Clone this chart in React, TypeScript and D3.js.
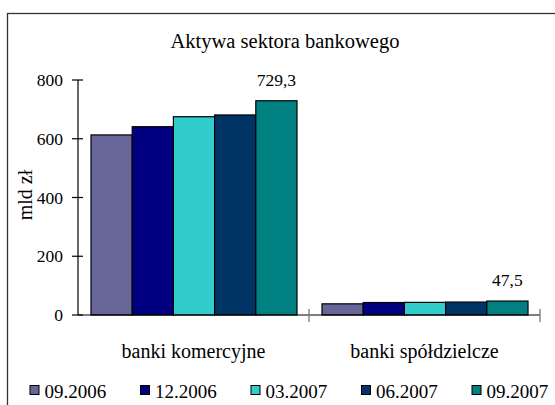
import React from 'react'
import { scaleBand, scaleLinear } from 'd3'

const categories = ['banki komercyjne', 'banki spółdzielcze']
const periods = ['09.2006', '12.2006', '03.2007', '06.2007', '09.2007']
const komercyjne = [613, 641, 675, 681, 729.3]
const spoldzielcze = [38.0, 42.5, 43.0, 44.0, 47.5]
const seriesColors = ['#666699', '#000080', '#33cccc', '#003366', '#008080']
const yTicks = [0, 200, 400, 600, 800]
const valueLabels = ['729,3', '47,5']

const width = 555
const height = 405
const font = "'Times New Roman', Times, Tinos, 'Liberation Serif', 'DejaVu Serif', 'Noto Serif', serif"

const y = scaleLinear().domain([0, 800]).range([315, 80])
const x0 = scaleBand().domain(categories).range([78, 540]).padding(0)
const x1 = scaleBand().domain(periods).range([13, 219]).padding(0)

function App() {
    const groups = [komercyjne, spoldzielcze]
    const xEnd = x0.range()[1]

    return (
        <svg width={width} height={height} style={{ position: 'absolute', left: 0, top: 0 }} fontFamily={font}>
            <rect x={0} y={0} width={width} height={height} fill="#fff" />
            <rect x={7.5} y={13.5} width={700} height={600} fill="none" stroke="#333" strokeWidth={1.3} />

            <text x={285} y={48} textAnchor="middle" fontSize={20.5} fill="#000">Aktywa sektora bankowego</text>

            {/* bars */}
            {categories.map((c, ci) =>
                periods.map((p, pi) => {
                    const v = groups[ci][pi]
                    return (
                        <rect key={c + p}
                            x={(x0(c) as number) + (x1(p) as number)}
                            y={y(v)}
                            width={x1.bandwidth()}
                            height={y(0) - y(v)}
                            fill={seriesColors[pi]}
                            stroke="#000" strokeWidth={1.2} />
                    )
                })
            )}

            {/* labels on last series */}
            {categories.map((c, ci) => {
                const last = periods[periods.length - 1]
                const v = groups[ci][periods.length - 1]
                return (
                    <text key={'lbl' + c}
                        x={(x0(c) as number) + (x1(last) as number) + x1.bandwidth() / 2}
                        y={y(v) - 15}
                        textAnchor="middle" fontSize={17.5} fill="#000">{valueLabels[ci]}</text>
                )
            })}

            {/* y axis */}
            <line x1={78} x2={78} y1={y(800)} y2={y(0)} stroke="#000" strokeWidth={1.2} />
            {yTicks.map(t => (
                <g key={t}>
                    <line x1={72} x2={83} y1={y(t)} y2={y(t)} stroke="#000" strokeWidth={1.2} />
                    <text x={63} y={y(t) + 6} textAnchor="end" fontSize={17.5} fill="#000">{t}</text>
                </g>
            ))}
            <text transform={`translate(32,195) rotate(-90)`} textAnchor="middle" fontSize={20} fill="#000">mld zł</text>

            {/* x axis */}
            <line x1={78} x2={xEnd} y1={y(0)} y2={y(0)} stroke="#000" strokeWidth={1.2} />
            {categories.map(c => {
                const xt = (x0(c) as number) + x0.bandwidth()
                return <line key={'t' + c} x1={xt} x2={xt} y1={y(0) - 6} y2={y(0) + 7} stroke="#777" strokeWidth={1.3} />
            })}
            {categories.map(c => (
                <text key={'c' + c} x={(x0(c) as number) + x0.bandwidth() / 2} y={357.5}
                    textAnchor="middle" fontSize={20} fill="#000">{c}</text>
            ))}

            {/* legend */}
            {periods.map((p, i) => {
                const lx = 30 + i * 110.5
                return (
                    <g key={'lg' + p}>
                        <rect x={lx} y={385.5} width={9} height={9} fill={seriesColors[i]} stroke="#000" strokeWidth={1} />
                        <text x={lx + 14.5} y={397.5} fontSize={19} fill="#000">{p}</text>
                    </g>
                )
            })}
        </svg>
    )
}

export default App
